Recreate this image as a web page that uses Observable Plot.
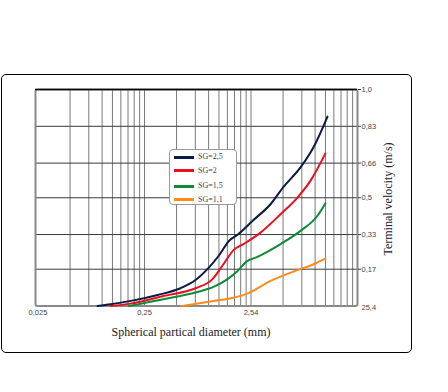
<!DOCTYPE html>
<html>
<head>
<meta charset="utf-8">
<script src="https://cdn.jsdelivr.net/npm/d3@7"></script>
<script src="https://cdn.jsdelivr.net/npm/@observablehq/plot@0.6"></script>
<style>
  html, body { margin: 0; padding: 0; background: #fff; }
  #wrap { position: relative; width: 448px; height: 392px; overflow: hidden; }
  #outer { position: absolute; left: 1px; top: 73.5px; border: 1px solid #000; border-radius: 5px; box-sizing: border-box; width: 411px; height: 279px; }
  #chart { position: absolute; left: 0; top: 0; }
  .t { position: absolute; font-family: "Liberation Serif", "DejaVu Serif", serif; color: #222; white-space: nowrap; }
  #legend { position: absolute; left: 169px; top: 149px; width: 68px; height: 56px; box-sizing: border-box; border: 1px solid #999; border-radius: 4px; background: #fff; }
  .li { position: absolute; left: 4px; height: 10px; font-family: "Liberation Serif", serif; font-size: 8px; color: #444; line-height: 10px; }
  .sw { position: absolute; left: 0; top: 3.5px; width: 20px; height: 3px; }
  .lt { position: absolute; left: 24px; top: 0; }
</style>
</head>
<body>
<div id="wrap">
  <div id="outer"></div>
  <div id="chart"></div>
  <div class="t" id="xtitle" style="font-size:12px; left:191px; top:332px; transform: translate(-50%,-50%);">Spherical partical diameter (mm)</div>
  <div class="t" id="ytitle" style="font-size:12px; left:388px; top:199px; transform: translate(-50%,-50%) rotate(-90deg);">Terminal velocity (m/s)</div>
  <div id="legend"></div>
</div>
<script>
// ---- data ----
const seriesNames = ["SG=2,5", "SG=2", "SG=1,5", "SG=1,1"];
const seriesColors = ["#0b1a45", "#e8101e", "#0f8a3a", "#ff8a1e"];

const sg25x = [0.092, 0.122, 0.200, 0.337, 0.553, 0.765, 1.01, 1.26, 1.60, 1.90, 2.68, 3.87, 5.13, 7.41, 9.81, 13.28];
const sg25y = [0, 0.008, 0.026, 0.051, 0.082, 0.12, 0.175, 0.231, 0.304, 0.329, 0.397, 0.47, 0.55, 0.64, 0.733, 0.875];

const sg2x = [0.122, 0.188, 0.383, 0.765, 1.105, 1.40, 1.74, 2.16, 3.12, 4.81, 6.94, 9.2, 12.7];
const sg2y = [0, 0.011, 0.046, 0.082, 0.124, 0.193, 0.258, 0.286, 0.339, 0.424, 0.501, 0.579, 0.705];

const sg15x = [0.180, 0.383, 0.799, 1.13, 1.53, 1.90, 2.30, 2.92, 4.81, 7.41, 10.7, 12.7];
const sg15y = [0, 0.031, 0.065, 0.088, 0.124, 0.162, 0.205, 0.227, 0.286, 0.347, 0.417, 0.475];

const sg11x = [0.574, 1.13, 1.74, 2.35, 3.87, 6.36, 9.81, 12.7];
const sg11y = [0, 0.023, 0.038, 0.057, 0.116, 0.159, 0.193, 0.219];

const xTickValues = [0.0254, 0.254, 2.54];
const xTickLabels = ["0,025", "0,25", "2,54"];
const xEndValue = [25.4];
const xEndLabel = ["25,4"];
const yTickValues = [0.17, 0.33, 0.5, 0.66, 0.83, 1.0];
const yTickLabels = ["0,17", "0,33", "0,5", "0,66", "0,83", "1,0"];
const decadeBases = [0.0254, 0.254, 2.54];
const minorMultipliers = [2, 3, 4, 5, 6, 7, 8, 9, 10];

// ---- build tables ----
const allX = [sg25x, sg2x, sg15x, sg11x];
const allY = [sg25y, sg2y, sg15y, sg11y];
const rows = [];
seriesNames.forEach((name, i) => {
  allX[i].forEach((x, j) => rows.push({series: name, x, y: allY[i][j]}));
});
const vGrid = [];
decadeBases.forEach(b => minorMultipliers.forEach(m => { const v = b * m; if (v < 25.4) vGrid.push(v); }));
const yFmt = d => yTickLabels[yTickValues.indexOf(d)];
const xFmt = d => xTickLabels[xTickValues.indexOf(d)];

const sans = "'Liberation Sans', Arial, sans-serif";

const chart = Plot.plot({
  width: 448,
  height: 392,
  marginLeft: 35,
  marginRight: 91,
  marginTop: 89,
  marginBottom: 86.5,
  style: {background: "transparent", fontFamily: sans},
  x: {type: "log", domain: [0.0254, 25.4], insetLeft: 2.5},
  y: {domain: [0, 1]},
  color: {domain: seriesNames, range: seriesColors},
  marks: [
    Plot.ruleX(vGrid, {stroke: "#7a7a7a", strokeWidth: 1}),
    Plot.ruleY(yTickValues.filter(v => v < 1), {stroke: "#3a3a3a", strokeWidth: 1}),
    Plot.frame({stroke: "#8a8a8a", strokeWidth: 2, rx: 2}),
    Plot.ruleY([1], {stroke: "#000", strokeWidth: 1.5}),
    Plot.line(rows, {x: "x", y: "y", z: "series", stroke: "series", strokeWidth: 2, curve: "monotone-x"}),
    Plot.axisY({anchor: "right", ticks: yTickValues, tickFormat: yFmt, tickSize: 3, tickPadding: 1, fontSize: 7.5, stroke: "#3a3a3a", fill: "#444", label: null}),
    Plot.axisX({anchor: "bottom", ticks: xTickValues, tickFormat: xFmt, tickSize: 0, tickPadding: 4, fontSize: 7.5, fill: "#444", label: null}),
    Plot.text(xEndValue, {x: d => d, y: () => 0, text: (d, i) => xEndLabel[i], textAnchor: "start", dx: 4, dy: 2, fontSize: 7.5, fill: "#444"})
  ]
});
document.getElementById("chart").appendChild(chart);

// ---- legend ----
const legend = document.getElementById("legend");
const legendTops = [2, 15.5, 31, 44.5];
seriesNames.forEach((name, i) => {
  const item = document.createElement("div");
  item.className = "li";
  item.style.top = legendTops[i] + "px";
  item.innerHTML = `<div class="sw" style="background:${seriesColors[i]}"></div><div class="lt">${name}</div>`;
  legend.appendChild(item);
});
</script>
</body>
</html>
